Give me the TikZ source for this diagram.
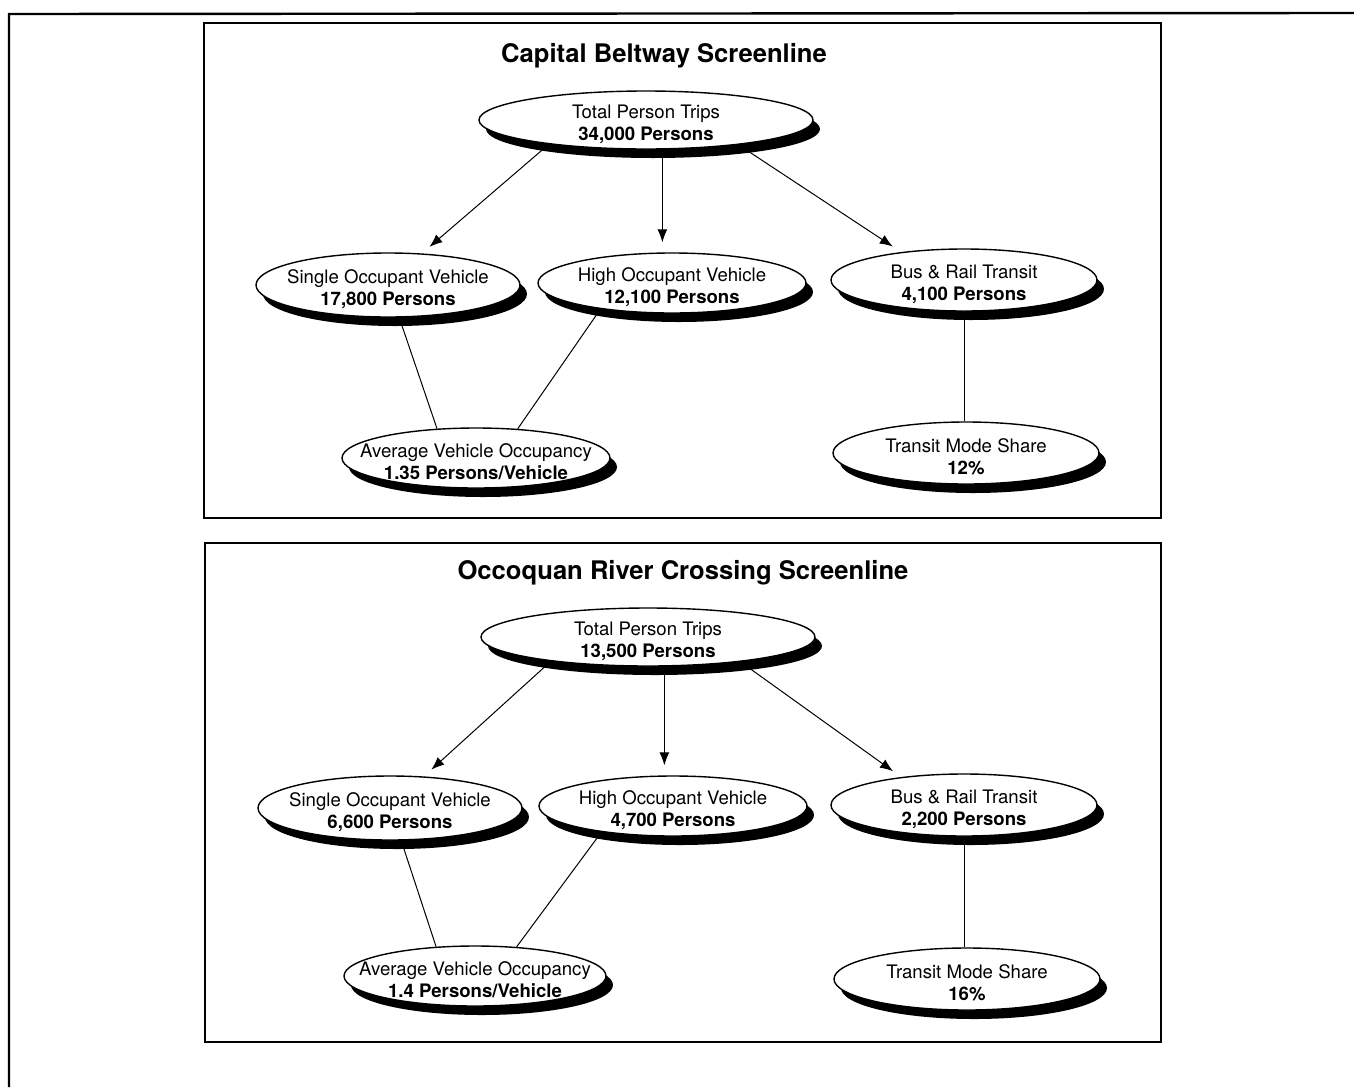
\documentclass[tikz,border=0pt]{standalone}
\usepackage{fontspec}
\setmainfont{TeX Gyre Heros}
\usetikzlibrary{arrows.meta,
                  shapes.geometric,
                  shadows,
                  positioning}

\begin{document}
\begin{tikzpicture}[x=0.5pt, y=-0.5pt, every node/.style={font=\fontsize{9.3}{11}\selectfont}]
    \tikzset{
    oval/.style={draw, shape=ellipse, line width=0.7pt, fill=white, align=center, text height=22pt, inner xsep=-16pt, inner ysep=-3pt, drop shadow={shadow xshift=3.5pt, shadow yshift=-4.5pt, fill=black, opacity=1}},
    heading/.style={font=\bfseries\fontsize{12.8}{15}\selectfont},
    panelbox/.style={draw, line width=0.9pt},
    line/.style={draw, line width=0.5pt, shorten >=5pt, -{Latex[length=6.5pt, width=5pt]}},
    link/.style={draw, line width=0.5pt}
}
\useasboundingbox (0,0) rectangle (1354,1087);
\draw [line width=1.2pt] (9,1087) -- (9,14) -- (1354,13);

% Capital Beltway
\draw [panelbox] (204,23) rectangle (1161,518);
\node [heading] (cbtitle) at (664,56) {Capital Beltway Screenline};
\node [oval, minimum width=167pt, minimum height=29pt] (cbtotal) at (646,120) {Total Person Trips\\\textbf{34,000 Persons}};
\node [oval, minimum width=132pt, minimum height=32pt] (cbsingle) at (388,285) {Single Occupant Vehicle\\\textbf{17,800 Persons}};
\node [oval, minimum width=134pt, minimum height=30pt] (cbhigh) at (672,283) {High Occupant Vehicle\\\textbf{12,100 Persons}};
\node [oval, minimum width=133pt, minimum height=31pt] (cbtransit) at (964,280) {Bus \& Rail Transit\\\textbf{4,100 Persons}};
\node [oval, minimum width=134pt, minimum height=30pt] (cbavg) at (476,458) {Average Vehicle Occupancy\\\textbf{1.35 Persons/Vehicle}};
\node [oval, minimum width=133pt, minimum height=31pt] (cbshare) at (966,453) {Transit Mode Share\\\textbf{12\%}};

\path [line] (cbtotal.194) -- (cbsingle.43);
\path [line] (cbtotal.299) -- (cbtotal.299 |- cbhigh.north);
\path [line] (cbtotal.345) -- (cbtransit.156);
\path [link] (cbsingle.289) -- (cbavg.143);
\path [link] (cbhigh.200) -- (cbavg.35);
\path [link] (cbtransit.south) -- (cbtransit.south |- cbshare.north);

% Occoquan River
\draw [panelbox] (205,543) rectangle (1161,1042);
\node [heading] (orctitle) at (683,573) {Occoquan River Crossing Screenline};
\node [oval, minimum width=167pt, minimum height=29pt] (orctotal) at (648,637) {Total Person Trips\\\textbf{13,500 Persons}};
\node [oval, minimum width=132pt, minimum height=32pt] (orcsingle) at (390,808) {Single Occupant Vehicle\\\textbf{6,600 Persons}};
\node [oval, minimum width=134pt, minimum height=30pt] (orchigh) at (673,806) {High Occupant Vehicle\\\textbf{4,700 Persons}};
\node [oval, minimum width=133pt, minimum height=31pt] (orctransit) at (964,805) {Bus \& Rail Transit\\\textbf{2,200 Persons}};
\node [oval, minimum width=131pt, minimum height=30pt] (orcavg) at (475,976) {Average Vehicle Occupancy\\\textbf{1.4 Persons/Vehicle}};
\node [oval, minimum width=133pt, minimum height=31pt] (orcshare) at (967,979) {Transit Mode Share\\\textbf{16\%}};

\path [line] (orctotal.194) -- (orcsingle.43);
\path [line] (orctotal.299) -- (orctotal.299 |- orchigh.north);
\path [line] (orctotal.345) -- (orctransit.156);
\path [link] (orcsingle.289) -- (orcavg.143);
\path [link] (orchigh.200) -- (orcavg.35);
\path [link] (orctransit.south) -- (orctransit.south |- orcshare.north);

\end{tikzpicture}
\end{document}
